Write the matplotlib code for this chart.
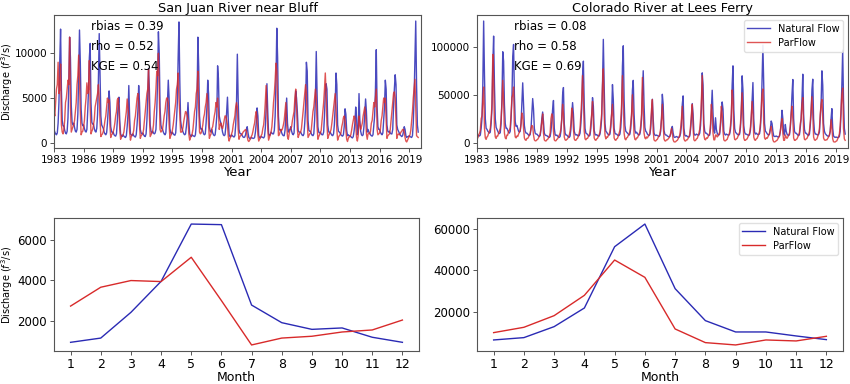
import numpy as np
import matplotlib
matplotlib.use("Agg")
import matplotlib.pyplot as plt
from matplotlib.ticker import MultipleLocator

# ---------------- data ----------------
years = list(range(1983, 2020))  # water years (Oct..Sep)
xtick_years = list(range(1983, 2020, 3))
months = list(range(1, 13))

# San Juan River near Bluff, monthly (Oct..Sep per water year)
sj_natural = [
    [1500,1200,1000,900,1100,2200,4500,9000,12700,6000,2500,1900],
    [1900,1400,1100,1000,1300,2800,6500,11800,9500,4200,2300,2000],
    [2200,1700,1300,1200,1500,3200,7500,12600,9000,3800,2200,1900],
    [2000,1600,1300,1200,1500,3500,6000,9500,11100,4500,2300,2100],
    [2100,1600,1300,1200,1600,3200,7000,12200,7500,3000,2000,1800],
    [1600,1200,1000,900,1100,2200,3800,5800,4500,1800,1300,1100],
    [1200,900,800,750,1000,2400,4200,5100,2500,1000,800,700],
    [900,750,650,600,800,1800,3200,6400,2800,1000,900,800],
    [1000,800,700,650,900,2000,3500,6400,4500,1500,1100,1000],
    [1100,900,750,700,1000,2500,5000,8300,6000,2000,1300,1100],
    [1300,1100,1000,1100,1500,3500,7000,12400,10000,4000,2000,1600],
    [1500,1200,1000,900,1100,2500,4500,7000,5000,1600,1100,1000],
    [1200,1000,900,850,1100,2500,4500,9500,13500,7000,2500,1800],
    [1500,1200,1000,900,1000,1800,2800,4500,2500,1000,800,700],
    [900,800,750,700,900,2000,4500,11800,8500,3000,1700,1500],
    [1600,1300,1000,900,1000,2200,4000,7000,5500,1800,1300,1200],
    [1500,1100,900,800,900,1800,3000,8600,7200,3000,2500,2200],
    [1800,1200,900,800,900,1800,3500,5100,2500,900,700,700],
    [900,800,700,650,800,2000,4500,9900,5000,1500,1100,1000],
    [1000,800,650,600,650,900,1400,1800,1100,600,500,450],
    [600,550,500,500,600,1200,2200,3900,3000,800,600,550],
    [700,650,600,550,700,1600,3800,6600,3500,1000,800,900],
    [1200,1100,1000,1000,1400,3000,7000,12800,9500,3000,1500,1400],
    [1500,1100,900,800,800,1400,3000,5000,2200,1200,1400,1500],
    [1800,1300,1000,900,1100,3500,5800,5000,3500,1400,1200,1200],
    [1200,1000,850,800,1000,2200,4000,9000,8000,2500,1400,1300],
    [1300,1000,850,800,1000,2500,5000,10200,5500,1800,1200,1100],
    [1200,1000,900,900,1200,3000,5500,6600,6000,2000,1300,1100],
    [1200,1000,850,800,1000,2000,4000,7800,6500,2000,1300,1200],
    [1100,900,800,750,900,1800,3800,3200,1400,800,900,800],
    [800,700,600,550,700,1300,2200,4000,2800,900,1200,5500],
    [2500,1300,900,800,900,1800,3200,4900,3500,1200,1500,1200],
    [1100,900,800,750,900,2000,3000,6000,10400,4000,1800,1500],
    [1500,1200,1000,900,1100,2500,4000,7000,6000,2000,1300,1200],
    [1300,1100,1000,1000,1500,4000,6000,7600,6500,2000,1500,1300],
    [1100,900,800,700,800,1200,1800,1500,800,600,700,700],
    [800,700,650,600,800,2200,5000,9500,13600,6500,2000,1200],
]
sj_parflow = [
    [3500,3000,4500,6000,6500,9000,5500,6000,8800,2000,1200,1000],
    [1500,2500,4500,5000,6000,7000,6500,11800,4000,1200,1500,1800],
    [2000,2500,3500,4500,6500,7500,9800,7000,3500,900,1200,1300],
    [1800,2500,4000,5000,6700,5500,6000,9200,4000,1000,1300,1500],
    [2000,2600,4000,4500,5000,5500,6500,5000,2500,700,900,1000],
    [1300,1800,2500,3000,4000,5000,4500,4800,2000,600,900,1000],
    [1200,1600,2200,3000,3500,4800,5000,3500,1500,400,700,800],
    [900,1200,2000,2800,3500,4900,4000,3000,1200,300,700,900],
    [1000,1400,2500,3000,4000,5000,5500,4500,2000,500,800,900],
    [1000,1500,2500,3500,4500,5500,6000,8200,3000,700,900,1100],
    [1300,2000,3500,4500,6000,8000,7500,10000,6000,1500,1200,1300],
    [1500,2200,3000,3500,4500,5000,5000,4500,2000,500,800,1000],
    [1400,2000,2800,3500,4500,6000,6500,7800,5000,3000,1200,1200],
    [1300,1800,2500,3000,3500,3400,3000,2500,1000,300,600,800],
    [1000,1500,2500,3500,4000,5500,6000,8000,4000,1200,1000,1100],
    [1500,2000,2800,3200,4000,4500,5500,4500,2000,500,800,1000],
    [1600,1800,2400,3000,3500,4500,4000,5000,3500,1500,2000,2200],
    [1800,1600,2000,2500,3000,3000,2500,2000,700,200,500,700],
    [1000,1300,2000,2500,3000,4000,4500,4000,1500,400,700,800],
    [900,1000,1200,1300,1400,1500,1300,700,250,150,300,500],
    [700,900,1300,1800,2200,3000,3500,2500,900,200,400,600],
    [800,1000,1600,2000,3000,4500,6400,4000,1500,300,600,900],
    [1200,1800,3000,4500,5500,7000,8900,8000,4000,800,900,1200],
    [1500,1400,1600,2000,2500,3500,4500,2000,700,400,1000,1400],
    [1600,1800,2500,3000,3500,5000,6000,4000,1500,600,900,1100],
    [1200,1600,2500,3500,4500,5500,6500,5500,2500,600,800,1000],
    [1100,1500,2500,3500,4000,5000,6000,5000,1800,400,700,900],
    [1100,1400,2500,3500,4500,6000,7800,5500,2000,500,800,1000],
    [1200,1500,2200,3000,3800,4500,5500,4000,1500,300,600,800],
    [900,1100,1800,2200,2800,3000,2500,1500,400,150,500,700],
    [700,900,1400,2000,2500,3000,2800,2000,600,200,800,3000],
    [2000,1500,1800,2200,3000,3500,4000,3000,1000,400,1000,1100],
    [1000,1300,2200,2500,3500,4500,4000,5000,6000,1500,900,1000],
    [1100,1500,2500,3000,4000,5000,4500,5000,2500,500,800,900],
    [1000,1500,2500,3500,4500,5500,5700,5000,2500,500,900,1000],
    [900,1000,1200,1300,1500,1500,1200,600,200,100,300,500],
    [700,900,1400,2500,3500,5000,6000,7100,4000,800,700,600],
]

# Colorado River at Lees Ferry, monthly (Oct..Sep per water year)
co_natural = [
    [9000,8000,7500,7000,8000,15000,25000,60000,126800,70000,25000,15000],
    [14000,12000,11000,10000,11000,20000,35000,80000,111100,60000,25000,16000],
    [14000,12000,10000,9500,10500,20000,45000,94800,85000,40000,20000,15000],
    [15000,13000,11000,10000,12000,25000,45000,90000,102400,50000,22000,17000],
    [18000,15000,12000,11000,12000,20000,40000,62400,40000,18000,12000,10000],
    [10000,9000,8000,7500,8500,15000,30000,46000,35000,15000,10000,9000],
    [9000,8000,7000,6500,7500,14000,25000,32000,22000,10000,8000,7500],
    [7500,6500,6000,5500,6500,12000,22000,35000,44000,15000,8500,7500],
    [8000,7000,6000,5500,6500,12000,25000,50000,57500,20000,10000,8000],
    [8000,7000,6000,5500,7000,14000,30000,41800,30000,12000,9000,8000],
    [8500,7500,7000,7500,10000,20000,35000,70000,85000,40000,15000,10000],
    [9500,8500,7500,7000,8000,15000,28000,47000,38000,13000,9000,8000],
    [8500,7500,7000,7000,9000,15000,25000,60000,107700,60000,20000,12000],
    [11000,9500,8500,8000,9000,16000,30000,60600,45000,15000,10000,9000],
    [9000,8000,7500,7500,9000,16000,30000,80000,101000,45000,18000,12000],
    [11000,10000,9000,8000,9000,15000,28000,55000,65000,30000,13000,10000],
    [11000,9500,8500,8000,9000,14000,25000,50000,75000,40000,16000,12000],
    [11000,9000,8000,7500,8500,15000,30000,45300,25000,10000,8000,7500],
    [8000,7500,7000,6500,7500,12000,25000,50500,40000,13000,9000,8000],
    [8000,7000,6500,6000,6500,9000,14000,17000,10000,6000,5500,6000],
    [6500,6000,5500,5500,6500,10000,18000,40000,48800,15000,8000,7000],
    [7500,6500,6000,6000,7000,14000,25000,40800,30000,10000,8000,8000],
    [9000,8500,8000,8000,10000,18000,35000,72800,60000,20000,12000,10000],
    [10000,9000,8000,7500,8000,15000,35000,54700,30000,12000,10000,26000],
    [14000,10000,8500,8000,9000,18000,30000,42500,35000,12000,9000,8000],
    [9000,8500,8000,8000,9000,14000,25000,60000,80100,35000,15000,11000],
    [10000,9000,8500,8000,9000,16000,30000,69700,55000,18000,11000,9000],
    [9000,8500,8000,7500,8500,13000,25000,45000,62700,25000,11000,9000],
    [10000,9000,8500,8500,9500,16000,30000,65000,101700,60000,20000,12000],
    [11000,9500,8500,8000,9000,15000,22600,20000,12000,7000,6500,6500],
    [7000,6500,6000,6000,7000,12000,20000,33800,25000,10000,8000,19000],
    [12000,9000,8000,7500,8500,16000,30000,50000,65900,25000,12000,10000],
    [10000,9000,8000,7500,8500,16000,25000,45000,71400,30000,14000,10000],
    [10000,9000,8000,7500,9000,18000,30000,55000,66200,25000,12000,9000],
    [9000,8500,8000,8500,11000,25000,40000,74900,60000,20000,12000,9500],
    [8500,7500,7000,6500,7500,12000,25000,35500,15000,7000,6000,5500],
    [6000,5500,5500,5500,6500,12000,30000,60000,96500,45000,15000,9000],
]
co_parflow = [
    [5000,5000,8000,10000,13000,25000,28000,45000,58000,15000,5000,3500],
    [6000,7000,10000,12000,15000,25000,40000,92000,65000,15000,6000,4500],
    [7000,7000,10000,12000,15000,25000,40000,65000,45000,10000,5000,4000],
    [8000,8000,12000,13000,16000,30000,47000,50000,58000,15000,6000,5000],
    [7000,6500,9000,11000,13000,20000,31000,28000,15000,5000,3000,2500],
    [4500,4500,6000,8000,10000,15000,18000,17000,8000,3000,2000,2000],
    [3000,3500,5000,7000,9000,15000,22000,30000,10000,3000,2000,1800],
    [3000,3500,5000,7000,10000,25000,30000,28000,12000,3000,2000,2000],
    [3500,4000,6000,8000,10000,15000,25000,40000,30000,6000,3000,2500],
    [3500,4000,6000,8000,12000,20000,36000,30000,15000,4000,2500,2500],
    [4000,4500,7000,10000,15000,30000,45000,70000,50000,12000,4000,3000],
    [4500,4500,6500,8000,11000,20000,30000,43000,20000,5000,3000,2500],
    [4000,4500,6500,8500,11000,20000,30000,60000,77000,30000,8000,4000],
    [6000,5500,7500,9000,12000,20000,30000,40000,20000,5000,3000,2500],
    [4000,4500,7000,10000,13000,25000,40000,70000,45000,10000,4000,3000],
    [5000,5500,7500,9000,12000,20000,30000,50000,30000,8000,3500,3000],
    [5000,5000,7000,9000,11000,18000,30000,68000,35000,10000,5000,4000],
    [6000,5000,6500,8000,10000,20000,35000,45000,12000,3000,2000,1800],
    [3000,3500,5500,7000,9000,15000,25000,40000,20000,4000,2000,1800],
    [3000,3000,4000,5000,6500,10000,15000,10000,3000,1000,800,1000],
    [2000,2500,4000,6000,8000,15000,25000,38000,20000,4000,2000,1800],
    [3000,3000,4500,6000,9000,18000,30000,40000,15000,3000,2000,2500],
    [4000,4500,7000,10000,14000,25000,45000,70000,40000,8000,3500,3000],
    [5000,4500,6000,8000,10000,20000,40000,30000,10000,3000,3000,8000],
    [8000,6000,7000,9000,11000,22000,38000,30000,12000,3000,2000,2000],
    [3000,3500,6000,8000,11000,18000,30000,55000,45000,10000,3500,3000],
    [4000,4500,6500,9000,11000,20000,35000,52000,25000,5000,2500,2500],
    [3500,4000,6000,8000,10000,16000,28000,43000,30000,6000,3000,2500],
    [4000,4500,6500,9000,12000,20000,35000,50000,56000,20000,5000,3500],
    [5000,4500,6000,8000,10000,14000,17000,10000,3000,1000,800,1200],
    [2000,2500,4000,5500,7500,12000,20000,25000,10000,2500,2500,8000],
    [6000,4500,6000,8000,10000,18000,30000,38000,25000,5000,2500,2500],
    [3500,4000,6000,8000,11000,20000,25000,40000,47000,10000,3500,3000],
    [4000,4500,6500,8500,12000,22000,35000,48000,30000,6000,3000,2500],
    [3500,4000,6500,10000,14000,30000,40000,45000,25000,5000,3000,2500],
    [3000,3000,4500,6000,8000,12000,24000,15000,4000,1000,800,800],
    [1500,2000,4000,6000,9000,18000,35000,50000,57000,15000,4000,2500],
]

# Monthly climatology (Jan..Dec)
sj_clim_natural = [930, 1140, 2410, 3940, 6770, 6740, 2770, 1900, 1570, 1640, 1180, 930]
sj_clim_parflow = [2720, 3650, 3980, 3930, 5130, 2990, 800, 1140, 1230, 1440, 1540, 2030]
co_clim_natural = [6290, 7420, 12740, 21770, 51450, 62420, 31130, 15650, 10160, 10160, 8230, 6450]
co_clim_parflow = [9840, 12420, 18060, 27900, 45000, 36610, 11610, 5000, 3870, 6290, 5810, 8060]

titles = ["San Juan River near Bluff", "Colorado River at Lees Ferry"]
stats = [("0.39", "0.52", "0.54"), ("0.08", "0.58", "0.69")]

# ---------------- plotting ----------------
BLUE = "#2a2ab4"
RED = "#d82a2a"
W, H = 850, 384
fig = plt.figure(figsize=(W / 100, H / 100), dpi=100)

def px_axes(l, r, t, b):
    return fig.add_axes([l / W, 1 - b / H, (r - l) / W, (b - t) / H])

ax_tl = px_axes(54, 421, 15, 148)
ax_tr = px_axes(477, 848, 15, 148)
ax_bl = px_axes(54, 419, 218, 351)
ax_br = px_axes(477, 843, 218, 351)

t = 1983 + np.arange(len(years) * 12) / 12.0

def style(ax, ticksize):
    for s in ax.spines.values():
        s.set_color("#555555")
        s.set_linewidth(0.8)
    ax.tick_params(labelsize=ticksize, length=3, width=0.7, color="#555555", pad=2)

for ax, nat, pf, title, st, step in [
    (ax_tl, sj_natural, sj_parflow, titles[0], stats[0], 5000),
    (ax_tr, co_natural, co_parflow, titles[1], stats[1], 50000),
]:
    nat_s = np.array(nat).ravel()
    pf_s = np.array(pf).ravel()
    ax.plot(t, nat_s, color=BLUE, lw=1.0, alpha=0.85, label="Natural Flow")
    ax.plot(t, pf_s, color=RED, lw=1.0, alpha=0.8, label="ParFlow")
    ax.set_xlim(1983, 2020.2)
    ax.set_xticks(xtick_years)
    ax.set_xticklabels([str(y) for y in xtick_years])
    ax.yaxis.set_major_locator(MultipleLocator(step))
    ax.set_title(title, fontsize=9.2, pad=2)
    ax.set_xlabel("Year", fontsize=9.5, labelpad=1)
    style(ax, 7.5)
    ax.text(0.10, 0.91, f"rbias = {st[0]}", transform=ax.transAxes, fontsize=8.5, va="center")
    ax.text(0.10, 0.76, f"rho = {st[1]}", transform=ax.transAxes, fontsize=8.5, va="center")
    ax.text(0.10, 0.61, f"KGE = {st[2]}", transform=ax.transAxes, fontsize=8.5, va="center")

ax_tl.set_ylabel("Discharge ($f^3$/s)", fontsize=7)
ax_tl.yaxis.set_label_coords(-0.105, 0.5)
ax_tr.legend(loc="upper right", fontsize=7, frameon=True, framealpha=0.9,
             edgecolor="#dddddd", handlelength=2.3, borderpad=0.4, labelspacing=0.4)

for ax, nat, pf in [
    (ax_bl, sj_clim_natural, sj_clim_parflow),
    (ax_br, co_clim_natural, co_clim_parflow),
]:
    ax.plot(months, nat, color=BLUE, lw=1.0, label="Natural Flow")
    ax.plot(months, pf, color=RED, lw=1.0, label="ParFlow")
    ax.set_xticks(months)
    ax.set_xlabel("Month", fontsize=9, labelpad=0)
    style(ax, 8.5)
    ax.tick_params(axis="x", labelsize=9)

ax_bl.yaxis.set_major_locator(MultipleLocator(2000))
ax_br.yaxis.set_major_locator(MultipleLocator(20000))
ax_bl.set_ylabel("Discharge ($f^3$/s)", fontsize=7)
ax_bl.yaxis.set_label_coords(-0.106, 0.5)
ax_br.legend(loc="upper right", fontsize=7, frameon=True, framealpha=0.9,
             edgecolor="#dddddd", handlelength=2.3, borderpad=0.4, labelspacing=0.4)

fig.savefig("out.png", dpi=100)
